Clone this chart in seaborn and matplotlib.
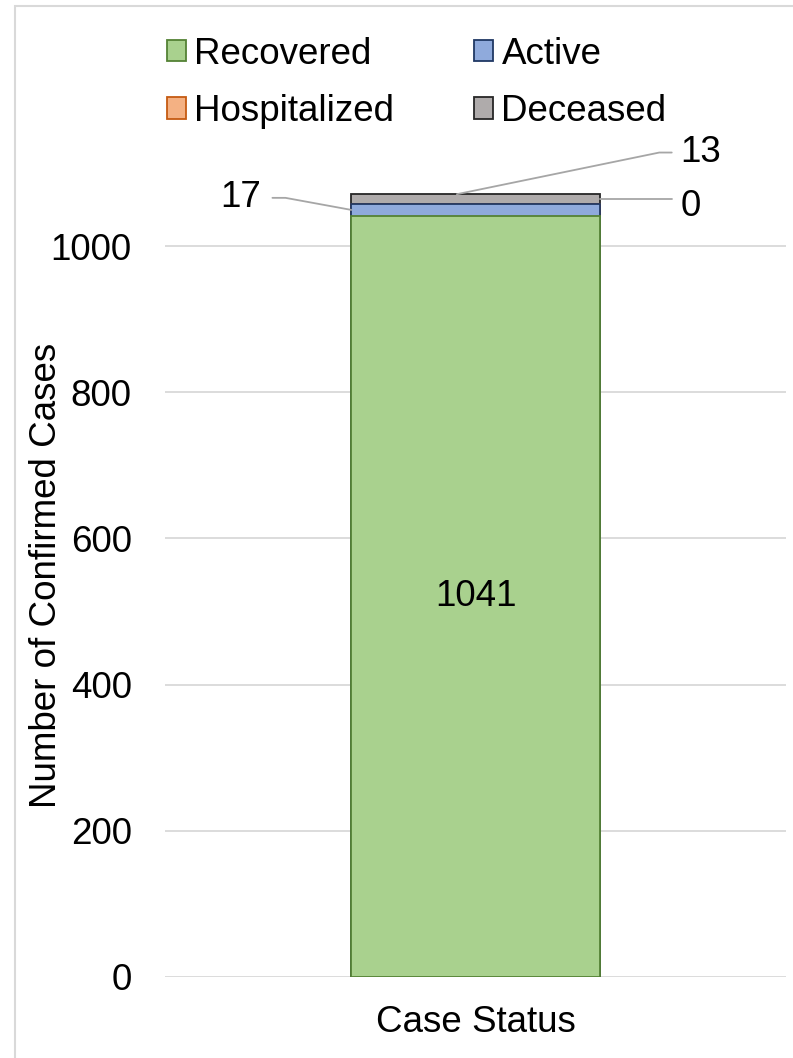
import pandas as pd
import matplotlib.pyplot as plt
import seaborn as sns
from matplotlib.patches import Patch, Rectangle

# Datos
status = ["Recovered", "Active", "Hospitalized", "Deceased"]
cases = [1041, 17, 0, 13]
category = ["Case Status"]
face_colors = ["#A9D18E", "#8FAADC", "#F4B183", "#AFABAB"]
edge_colors = ["#548235", "#203864", "#C55A11", "#262626"]
y_ticks = [0, 200, 400, 600, 800, 1000]

sns.set_theme(style="white")
plt.rcParams["font.family"] = ["Liberation Sans", "DejaVu Sans"]
plt.rcParams["text.color"] = "black"
plt.rcParams["axes.labelcolor"] = "black"

FS = 26.5
W, H = 793, 1058
fig = plt.figure(figsize=(W / 100, H / 100), dpi=100)
ax = fig.add_axes([165 / W, 1 - 977 / H, (786 - 165) / W, (977 - 173) / H])

# barras apiladas: se dibujan los totales acumulados de mayor a menor
cum = pd.Series(cases, index=status).cumsum()
for i in reversed(range(len(status))):
    df = pd.DataFrame({"cat": category, "val": [cum.iloc[i]]})
    sns.barplot(data=df, x="cat", y="val", color=face_colors[i], width=0.4,
                edgecolor=edge_colors[i], linewidth=1.3, saturation=1, ax=ax)

ax.set_ylim(0, 1100)
ax.set_xlim(-0.5, 0.5)
ax.set_yticks(y_ticks)
ax.grid(axis="y", color="#D9D9D9", linewidth=1.3)
ax.set_axisbelow(True)
for s in ax.spines.values():
    s.set_visible(False)
ax.tick_params(axis="both", labelsize=FS, length=0, colors="black")
ax.tick_params(axis="y", pad=24)
ax.tick_params(axis="x", pad=20)
ax.set_xlabel("")
ax.set_ylabel("Number of Confirmed Cases", fontsize=FS)
ax.yaxis.set_label_coords(-0.162, 0.5)

# etiqueta del segmento grande
ax.text(0, cases[0] / 2, str(cases[0]), ha="center", va="center", fontsize=FS)

# etiquetas con lineas guia
lc = "#A6A6A6"
mid_active = cases[0] + cases[1] / 2
top_active = cases[0] + cases[1]
top_dec = top_active + cases[2] + cases[3]
ax.plot([-0.2, -0.306, -0.327], [mid_active, 1066, 1066], color=lc, lw=1.3, clip_on=False)
ax.text(-0.345, 1066, str(cases[1]), ha="right", va="center", fontsize=FS)
ax.plot([0.2, 0.316], [top_dec - 7, top_dec - 7], color=lc, lw=1.3, clip_on=False)
ax.text(0.33, top_active - 4, str(cases[2]), ha="left", va="center", fontsize=FS)
ax.plot([-0.03, 0.296, 0.316], [top_dec, 1128, 1128], color=lc, lw=1.3, clip_on=False)
ax.text(0.33, 1128, str(cases[3]), ha="left", va="center", fontsize=FS)

# leyenda
handles = [Patch(facecolor=f, edgecolor=e, linewidth=1.3) for f, e in zip(face_colors, edge_colors)]
order = [0, 2, 1, 3]
fig.legend([handles[i] for i in order], [status[i] for i in order], ncol=2,
           loc="upper left", bbox_to_anchor=(141 / W, 1 - 11 / H), frameon=False,
           fontsize=FS, handlelength=0.52, handleheight=0.52, handletextpad=0.22,
           columnspacing=2.18, labelspacing=0.6, borderpad=0.2)

# borde del area del grafico
fig.patches.append(Rectangle((15 / W, -0.01), 1.0, 1 - 6 / H + 0.01, transform=fig.transFigure,
                             fill=False, edgecolor="#D9D9D9", linewidth=1.5))

fig.savefig("out.png", dpi=100)
